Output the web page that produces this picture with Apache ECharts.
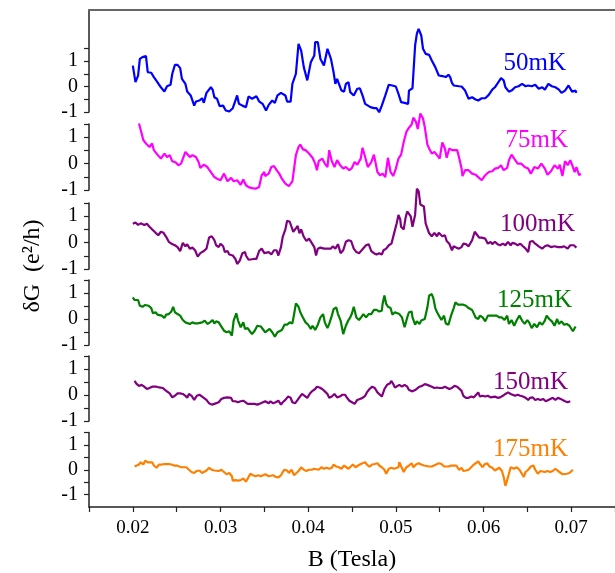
<!DOCTYPE html>
<html>
<head>
<meta charset="utf-8">
<script src="https://cdn.jsdelivr.net/npm/echarts@6/dist/echarts.min.js"></script>
<style>html,body{margin:0;padding:0;background:#fff;}#chart{width:615px;height:573px;}</style>
</head>
<body>
<div id="chart"></div>
<script>
// ---- data (B in Tesla, dG in e^2/h) ----
const labels = ['50mK', '75mK', '100mK', '125mK', '150mK', '175mK'];
const colors = ['#0000FF', '#FF00FF', '#800080', '#008000', '#800080', '#FF8000'];
const xTickValues = [0.015, 0.02, 0.025, 0.03, 0.035, 0.04, 0.045, 0.05, 0.055, 0.06, 0.065, 0.07, 0.075];
const xLabelValues = [0.02, 0.03, 0.04, 0.05, 0.06, 0.07];
const yLabelValues = [-1, 0, 1];
const yTickValues = [-1, -0.5, 0, 0.5, 1, 1.5];

const B_50 = [0.0200,0.0203,0.0206,0.0208,0.0211,0.0215,0.0217,0.0221,0.0224,0.0228,0.0232,0.0236,0.0239,0.0243,0.0245,0.0248,0.0251,0.0254,0.0256,0.0260,0.0262,0.0266,0.0270,0.0272,0.0276,0.0279,0.0281,0.0284,0.0289,0.0291,0.0293,0.0296,0.0299,0.0303,0.0306,0.0310,0.0314,0.0317,0.0319,0.0321,0.0325,0.0329,0.0332,0.0336,0.0338,0.0341,0.0344,0.0348,0.0352,0.0355,0.0359,0.0362,0.0365,0.0369,0.0371,0.0374,0.0376,0.0380,0.0382,0.0386,0.0389,0.0392,0.0395,0.0399,0.0403,0.0407,0.0408,0.0411,0.0414,0.0418,0.0422,0.0426,0.0429,0.0431,0.0433,0.0435,0.0438,0.0441,0.0443,0.0446,0.0448,0.0452,0.0456,0.0459,0.0462,0.0465,0.0467,0.0471,0.0475,0.0478,0.0481,0.0482,0.0484,0.0488,0.0492,0.0496,0.0500,0.0503,0.0506,0.0510,0.0514,0.0515,0.0519,0.0520,0.0522,0.0524,0.0526,0.0528,0.0529,0.0531,0.0534,0.0538,0.0541,0.0545,0.0549,0.0553,0.0555,0.0557,0.0560,0.0562,0.0564,0.0566,0.0568,0.0572,0.0575,0.0579,0.0583,0.0587,0.0591,0.0594,0.0598,0.0602,0.0606,0.0610,0.0613,0.0617,0.0620,0.0623,0.0625,0.0629,0.0632,0.0636,0.0640,0.0644,0.0648,0.0651,0.0655,0.0659,0.0663,0.0667,0.0670,0.0674,0.0678,0.0682,0.0686,0.0689,0.0693,0.0697,0.0701,0.0705,0.0706];
const dG_50 = [0.82,0.17,0.43,1.08,1.15,1.19,0.56,0.54,0.37,0.17,-0.03,-0.20,0.01,0.07,0.50,0.85,0.85,0.72,0.30,0.10,-0.20,-0.35,-0.75,-0.59,-0.55,-0.46,-0.64,-0.25,-0.03,-0.12,-0.42,-0.48,-0.77,-0.75,-0.94,-0.98,-0.85,-0.55,-0.35,-0.68,-0.75,-0.81,-0.39,-0.48,-0.42,-0.38,-0.58,-0.68,-0.94,-0.72,-0.55,-0.64,-0.35,-0.25,-0.20,-0.35,-0.59,-0.59,0.10,0.50,1.67,1.41,0.76,0.24,0.95,1.22,1.74,1.74,1.08,0.82,1.48,1.08,0.56,0.10,0.30,0.24,-0.16,-0.20,0.10,0.17,-0.22,-0.35,-0.09,-0.07,-0.35,-0.68,-0.72,-0.81,-0.85,-0.85,-1.01,-0.94,-0.75,-0.35,0.07,0.04,0.00,-0.29,-0.61,-0.64,-0.68,-0.16,-0.07,-0.03,1.61,2.07,2.26,2.26,2.00,1.48,1.28,1.24,1.02,0.76,0.43,0.41,0.46,0.37,0.46,0.37,0.14,0.04,-0.03,0.01,0.00,-0.16,-0.48,-0.42,-0.51,-0.55,-0.46,-0.46,-0.33,-0.12,-0.03,0.17,0.33,0.24,-0.03,-0.20,-0.16,-0.03,0.01,0.10,0.01,0.04,0.01,0.07,-0.09,-0.03,-0.12,0.10,0.01,-0.03,-0.12,-0.25,-0.16,0.04,-0.20,-0.16,-0.25];

const B_75 = [0.0207,0.0209,0.0212,0.0215,0.0219,0.0222,0.0224,0.0228,0.0232,0.0236,0.0239,0.0242,0.0245,0.0249,0.0252,0.0255,0.0257,0.0260,0.0262,0.0265,0.0268,0.0272,0.0275,0.0277,0.0281,0.0285,0.0289,0.0293,0.0296,0.0300,0.0304,0.0308,0.0312,0.0315,0.0319,0.0323,0.0326,0.0329,0.0332,0.0336,0.0340,0.0344,0.0347,0.0350,0.0351,0.0355,0.0358,0.0361,0.0364,0.0367,0.0370,0.0374,0.0378,0.0382,0.0386,0.0389,0.0391,0.0394,0.0397,0.0401,0.0405,0.0408,0.0410,0.0412,0.0416,0.0419,0.0422,0.0424,0.0427,0.0430,0.0433,0.0436,0.0440,0.0443,0.0447,0.0450,0.0453,0.0456,0.0460,0.0462,0.0465,0.0468,0.0472,0.0475,0.0479,0.0482,0.0485,0.0488,0.0491,0.0494,0.0497,0.0500,0.0503,0.0506,0.0509,0.0512,0.0515,0.0518,0.0520,0.0523,0.0525,0.0528,0.0531,0.0533,0.0536,0.0538,0.0541,0.0544,0.0547,0.0550,0.0553,0.0556,0.0558,0.0561,0.0564,0.0567,0.0570,0.0572,0.0575,0.0576,0.0579,0.0583,0.0587,0.0591,0.0594,0.0598,0.0602,0.0606,0.0610,0.0613,0.0617,0.0620,0.0623,0.0627,0.0629,0.0632,0.0635,0.0639,0.0643,0.0647,0.0651,0.0654,0.0658,0.0662,0.0666,0.0670,0.0673,0.0677,0.0681,0.0685,0.0687,0.0690,0.0693,0.0696,0.0699,0.0701,0.0704,0.0706,0.0709,0.0711];
const dG_75 = [1.52,1.27,0.89,0.76,0.63,0.76,0.51,0.34,0.19,0.38,0.25,0.32,0.09,0.04,-0.06,0.00,-0.06,0.44,0.47,0.25,0.32,0.25,0.06,-0.16,-0.04,-0.13,-0.32,-0.51,-0.57,-0.63,-0.38,-0.67,-0.54,-0.67,-0.63,-0.80,-0.60,-0.82,-0.89,-0.93,-0.95,-0.89,-0.44,-0.32,-0.47,-0.38,-0.13,-0.09,-0.25,-0.38,-0.57,-0.76,-0.85,-0.67,0.32,0.63,0.72,0.54,0.51,0.38,0.22,0.00,-0.25,0.09,0.19,0.00,-0.13,0.51,0.09,-0.13,0.13,-0.04,-0.19,-0.13,-0.25,-0.16,0.06,-0.04,0.19,0.60,0.25,-0.13,0.06,0.34,-0.32,-0.44,-0.38,-0.51,0.22,-0.32,-0.47,-0.19,0.19,0.34,0.82,1.20,1.36,1.48,1.74,1.58,1.31,1.90,1.71,1.39,0.72,0.57,0.38,0.44,0.32,0.19,0.80,0.57,0.22,0.57,0.51,0.51,0.51,0.25,-0.19,-0.47,-0.25,-0.25,-0.38,-0.42,-0.51,-0.63,-0.44,-0.32,-0.29,-0.19,-0.16,-0.06,-0.25,-0.16,0.13,0.34,0.19,0.00,0.00,-0.13,-0.19,-0.38,-0.13,-0.19,0.00,-0.19,-0.42,-0.29,-0.06,-0.19,-0.04,-0.47,0.09,-0.06,0.13,-0.04,-0.32,-0.13,-0.44,-0.38];

const B_100 = [0.0200,0.0203,0.0206,0.0209,0.0213,0.0216,0.0219,0.0221,0.0223,0.0226,0.0229,0.0232,0.0235,0.0238,0.0241,0.0244,0.0248,0.0251,0.0254,0.0257,0.0260,0.0262,0.0265,0.0268,0.0271,0.0274,0.0277,0.0281,0.0284,0.0287,0.0290,0.0293,0.0295,0.0298,0.0300,0.0303,0.0305,0.0308,0.0310,0.0314,0.0317,0.0319,0.0322,0.0325,0.0328,0.0329,0.0332,0.0334,0.0338,0.0341,0.0344,0.0347,0.0350,0.0352,0.0355,0.0358,0.0361,0.0364,0.0366,0.0369,0.0371,0.0374,0.0376,0.0379,0.0381,0.0383,0.0386,0.0388,0.0390,0.0392,0.0395,0.0398,0.0401,0.0404,0.0407,0.0409,0.0411,0.0414,0.0418,0.0422,0.0426,0.0428,0.0431,0.0434,0.0437,0.0440,0.0443,0.0446,0.0449,0.0452,0.0455,0.0458,0.0461,0.0463,0.0466,0.0469,0.0472,0.0475,0.0478,0.0481,0.0484,0.0486,0.0489,0.0492,0.0495,0.0498,0.0500,0.0501,0.0503,0.0505,0.0506,0.0509,0.0511,0.0513,0.0515,0.0517,0.0519,0.0522,0.0524,0.0526,0.0528,0.0530,0.0532,0.0534,0.0536,0.0538,0.0541,0.0544,0.0547,0.0549,0.0553,0.0556,0.0558,0.0561,0.0564,0.0566,0.0569,0.0572,0.0575,0.0577,0.0580,0.0583,0.0587,0.0590,0.0593,0.0595,0.0598,0.0602,0.0605,0.0608,0.0610,0.0613,0.0616,0.0619,0.0622,0.0625,0.0628,0.0631,0.0633,0.0636,0.0639,0.0642,0.0645,0.0648,0.0651,0.0653,0.0656,0.0659,0.0663,0.0667,0.0670,0.0673,0.0677,0.0681,0.0685,0.0689,0.0692,0.0696,0.0699,0.0703,0.0706];
const dG_100 = [0.71,0.76,0.67,0.73,0.67,0.71,0.60,0.63,0.47,0.37,0.28,0.41,0.37,0.22,0.03,-0.04,-0.10,-0.17,-0.32,-0.01,-0.14,-0.06,-0.23,-0.19,-0.29,-0.53,-0.40,-0.32,-0.23,0.19,0.24,0.09,-0.10,-0.17,-0.04,-0.14,-0.36,-0.32,-0.45,-0.49,-0.62,-0.81,-0.68,-0.40,-0.36,-0.49,-0.65,-0.58,-0.62,-0.62,-0.32,-0.23,-0.40,-0.45,-0.36,-0.45,-0.29,-0.29,-0.49,-0.17,0.22,0.50,0.83,0.79,0.60,0.41,0.54,0.63,0.35,0.50,0.22,0.06,0.15,-0.01,-0.17,-0.49,-0.23,-0.19,-0.23,-0.23,-0.23,-0.14,-0.23,-0.06,-0.40,-0.29,0.03,0.09,0.06,-0.23,-0.36,-0.40,-0.29,-0.36,-0.10,-0.06,-0.32,-0.40,-0.45,-0.40,-0.45,-0.29,-0.23,-0.10,-0.04,0.35,0.41,0.73,1.05,0.88,0.60,0.50,0.92,1.18,1.22,0.99,0.60,1.05,2.04,1.95,1.44,1.47,1.37,0.73,0.54,0.35,0.24,0.37,0.24,0.37,0.24,0.28,0.06,-0.04,-0.29,-0.14,-0.19,-0.23,-0.17,-0.04,-0.06,-0.14,0.09,0.41,0.28,0.19,0.19,0.15,-0.04,0.03,-0.06,0.03,-0.06,-0.10,-0.04,-0.10,0.03,-0.10,-0.01,-0.04,-0.10,-0.04,-0.14,-0.23,-0.36,0.03,0.06,-0.04,-0.14,-0.23,-0.14,-0.10,-0.17,-0.14,-0.17,-0.17,-0.14,-0.23,-0.10,-0.10,-0.19];

const B_125 = [0.0200,0.0202,0.0204,0.0206,0.0208,0.0211,0.0214,0.0218,0.0221,0.0223,0.0226,0.0228,0.0230,0.0233,0.0236,0.0238,0.0241,0.0244,0.0246,0.0248,0.0251,0.0254,0.0257,0.0260,0.0262,0.0265,0.0268,0.0271,0.0274,0.0276,0.0279,0.0282,0.0285,0.0288,0.0291,0.0293,0.0295,0.0298,0.0301,0.0304,0.0307,0.0310,0.0313,0.0315,0.0318,0.0320,0.0323,0.0326,0.0328,0.0331,0.0333,0.0336,0.0339,0.0342,0.0346,0.0348,0.0351,0.0353,0.0356,0.0359,0.0362,0.0365,0.0367,0.0370,0.0373,0.0376,0.0379,0.0382,0.0384,0.0386,0.0389,0.0391,0.0394,0.0397,0.0400,0.0403,0.0405,0.0408,0.0411,0.0414,0.0417,0.0419,0.0422,0.0424,0.0427,0.0429,0.0432,0.0434,0.0437,0.0440,0.0443,0.0446,0.0448,0.0450,0.0452,0.0455,0.0458,0.0461,0.0463,0.0466,0.0469,0.0472,0.0475,0.0478,0.0481,0.0484,0.0485,0.0487,0.0489,0.0491,0.0494,0.0496,0.0499,0.0501,0.0504,0.0507,0.0510,0.0513,0.0515,0.0518,0.0519,0.0522,0.0524,0.0527,0.0529,0.0531,0.0533,0.0536,0.0538,0.0541,0.0543,0.0545,0.0547,0.0549,0.0552,0.0555,0.0557,0.0560,0.0563,0.0566,0.0568,0.0571,0.0574,0.0577,0.0580,0.0583,0.0587,0.0591,0.0594,0.0596,0.0599,0.0602,0.0605,0.0608,0.0612,0.0615,0.0618,0.0621,0.0624,0.0627,0.0629,0.0632,0.0635,0.0638,0.0641,0.0644,0.0647,0.0650,0.0652,0.0655,0.0658,0.0661,0.0664,0.0667,0.0670,0.0672,0.0675,0.0678,0.0681,0.0684,0.0686,0.0689,0.0692,0.0695,0.0698,0.0700,0.0702,0.0704,0.0705];
const dG_125 = [0.83,0.73,0.68,0.73,0.51,0.47,0.54,0.51,0.42,0.22,0.26,0.17,0.22,0.13,0.04,0.17,0.19,0.29,0.47,0.26,0.19,0.13,-0.04,-0.13,-0.06,-0.19,-0.13,-0.17,-0.17,-0.22,-0.13,-0.06,-0.19,-0.13,-0.04,-0.17,-0.09,-0.13,-0.29,-0.45,-0.51,-0.47,-0.64,-0.06,0.22,-0.06,-0.32,-0.13,-0.38,-0.35,-0.45,-0.58,-0.45,-0.26,-0.29,-0.29,-0.51,-0.55,-0.38,-0.51,-0.68,-0.51,-0.55,-0.42,-0.22,-0.22,-0.13,-0.17,0.19,0.60,0.47,0.26,0.06,-0.13,-0.22,-0.38,-0.26,-0.42,-0.22,0.06,0.19,-0.13,-0.35,-0.19,0.13,0.38,0.45,0.19,-0.06,-0.58,-0.26,-0.04,0.06,0.22,0.47,0.06,-0.04,0.09,0.19,0.06,0.19,0.19,0.35,0.35,0.29,0.32,0.60,0.90,0.58,0.47,0.42,0.17,0.26,0.32,0.19,0.06,-0.32,0.06,0.26,0.29,0.06,-0.22,-0.09,-0.19,-0.06,-0.13,0.00,0.45,0.90,0.96,0.77,0.42,0.26,0.32,-0.04,0.13,-0.17,-0.22,0.13,0.42,0.64,0.55,0.55,0.55,0.51,0.42,0.35,0.06,0.00,0.13,0.06,-0.09,0.13,0.13,0.13,0.13,0.06,0.06,-0.04,0.13,-0.19,-0.04,-0.26,-0.04,0.13,-0.06,-0.19,-0.04,-0.13,-0.35,-0.19,-0.32,-0.13,-0.22,-0.06,0.13,0.00,-0.09,-0.26,0.00,-0.19,-0.09,-0.22,-0.19,-0.26,-0.19,-0.47,-0.47,-0.29];

const B_150 = [0.0202,0.0204,0.0207,0.0210,0.0213,0.0216,0.0219,0.0222,0.0224,0.0227,0.0230,0.0234,0.0237,0.0239,0.0242,0.0245,0.0248,0.0251,0.0254,0.0257,0.0260,0.0262,0.0264,0.0267,0.0270,0.0273,0.0276,0.0279,0.0281,0.0284,0.0287,0.0290,0.0293,0.0295,0.0298,0.0301,0.0304,0.0308,0.0312,0.0314,0.0317,0.0320,0.0323,0.0326,0.0328,0.0331,0.0333,0.0336,0.0339,0.0342,0.0346,0.0348,0.0351,0.0355,0.0357,0.0360,0.0363,0.0366,0.0369,0.0371,0.0374,0.0377,0.0380,0.0382,0.0385,0.0388,0.0390,0.0393,0.0396,0.0399,0.0402,0.0405,0.0408,0.0410,0.0413,0.0416,0.0419,0.0422,0.0424,0.0427,0.0430,0.0433,0.0436,0.0439,0.0442,0.0444,0.0447,0.0450,0.0453,0.0456,0.0459,0.0462,0.0465,0.0467,0.0470,0.0473,0.0476,0.0479,0.0481,0.0484,0.0487,0.0490,0.0493,0.0495,0.0497,0.0499,0.0501,0.0504,0.0507,0.0510,0.0513,0.0515,0.0519,0.0522,0.0524,0.0527,0.0530,0.0533,0.0536,0.0538,0.0541,0.0544,0.0547,0.0550,0.0553,0.0556,0.0558,0.0561,0.0564,0.0567,0.0570,0.0572,0.0575,0.0577,0.0580,0.0583,0.0586,0.0589,0.0591,0.0594,0.0596,0.0599,0.0602,0.0605,0.0608,0.0610,0.0613,0.0616,0.0619,0.0622,0.0625,0.0628,0.0631,0.0633,0.0636,0.0639,0.0642,0.0645,0.0648,0.0651,0.0653,0.0656,0.0659,0.0662,0.0665,0.0668,0.0671,0.0674,0.0676,0.0679,0.0682,0.0685,0.0688,0.0690,0.0693,0.0696,0.0699];
const dG_150 = [0.54,0.44,0.35,0.39,0.32,0.23,0.27,0.32,0.39,0.32,0.29,0.27,0.19,0.14,0.06,-0.09,-0.03,0.06,0.06,0.04,-0.03,-0.11,0.04,-0.03,-0.19,-0.03,0.01,-0.06,-0.11,-0.19,-0.32,-0.37,-0.34,-0.32,-0.28,-0.15,-0.11,-0.09,-0.11,-0.24,-0.24,-0.28,-0.24,-0.22,-0.28,-0.34,-0.37,-0.34,-0.34,-0.37,-0.32,-0.28,-0.24,-0.32,-0.24,-0.32,-0.28,-0.22,-0.37,-0.28,-0.19,-0.06,-0.11,-0.28,-0.32,-0.19,-0.09,0.04,-0.03,-0.11,0.06,0.16,0.23,0.32,0.29,0.23,0.14,0.04,-0.11,-0.06,0.04,-0.09,-0.06,0.01,0.01,-0.09,-0.22,-0.28,-0.34,-0.19,-0.15,-0.11,-0.03,0.10,0.23,0.32,0.27,0.10,0.04,-0.06,0.23,0.39,0.44,0.54,0.42,0.29,0.32,0.39,0.32,0.39,0.32,0.19,0.14,0.19,0.23,0.32,0.35,0.42,0.39,0.32,0.32,0.27,0.29,0.27,0.27,0.32,0.27,0.23,0.27,0.35,0.32,0.29,0.16,-0.03,-0.11,-0.11,-0.06,-0.09,-0.03,0.10,-0.06,-0.03,-0.06,-0.03,-0.09,-0.03,-0.06,-0.11,-0.09,-0.03,0.04,0.10,0.04,0.01,-0.03,0.01,-0.03,-0.06,-0.11,-0.19,-0.11,-0.09,-0.19,-0.15,-0.19,-0.15,-0.24,-0.19,-0.15,-0.11,-0.19,-0.11,-0.15,-0.11,-0.24,-0.28,-0.24];

const B_175 = [0.0202,0.0204,0.0207,0.0209,0.0212,0.0214,0.0217,0.0219,0.0222,0.0224,0.0227,0.0230,0.0233,0.0236,0.0238,0.0241,0.0244,0.0247,0.0250,0.0253,0.0256,0.0258,0.0261,0.0264,0.0267,0.0270,0.0273,0.0276,0.0279,0.0281,0.0284,0.0287,0.0290,0.0293,0.0295,0.0298,0.0301,0.0304,0.0307,0.0310,0.0313,0.0314,0.0317,0.0320,0.0323,0.0326,0.0329,0.0332,0.0334,0.0337,0.0340,0.0343,0.0346,0.0348,0.0351,0.0355,0.0357,0.0360,0.0363,0.0366,0.0369,0.0371,0.0373,0.0376,0.0378,0.0381,0.0384,0.0386,0.0389,0.0392,0.0395,0.0398,0.0401,0.0404,0.0407,0.0409,0.0412,0.0415,0.0418,0.0421,0.0424,0.0427,0.0429,0.0432,0.0435,0.0438,0.0441,0.0443,0.0446,0.0448,0.0451,0.0454,0.0457,0.0460,0.0462,0.0465,0.0467,0.0470,0.0473,0.0476,0.0479,0.0481,0.0484,0.0487,0.0489,0.0492,0.0495,0.0498,0.0500,0.0503,0.0504,0.0506,0.0509,0.0512,0.0515,0.0518,0.0520,0.0523,0.0526,0.0529,0.0532,0.0534,0.0538,0.0541,0.0543,0.0546,0.0549,0.0552,0.0555,0.0557,0.0560,0.0563,0.0566,0.0569,0.0572,0.0575,0.0577,0.0580,0.0583,0.0586,0.0589,0.0591,0.0594,0.0596,0.0599,0.0601,0.0604,0.0607,0.0610,0.0613,0.0615,0.0618,0.0621,0.0623,0.0625,0.0627,0.0629,0.0631,0.0633,0.0635,0.0638,0.0641,0.0643,0.0646,0.0648,0.0651,0.0654,0.0657,0.0659,0.0662,0.0665,0.0667,0.0670,0.0673,0.0676,0.0679,0.0682,0.0685,0.0687,0.0690,0.0692,0.0695,0.0698,0.0700,0.0702];
const dG_175 = [0.13,0.17,0.21,0.30,0.21,0.36,0.30,0.26,0.30,0.17,0.08,0.21,0.21,0.23,0.26,0.23,0.21,0.17,0.17,0.13,0.10,0.17,0.10,0.00,-0.09,-0.13,-0.05,-0.03,-0.13,-0.18,-0.03,0.08,0.00,-0.03,-0.05,-0.05,0.00,-0.09,-0.18,-0.13,-0.26,-0.44,-0.42,-0.44,-0.42,-0.35,-0.48,-0.29,-0.16,-0.22,-0.26,-0.22,-0.26,-0.22,-0.18,-0.26,-0.26,-0.22,-0.29,-0.31,-0.22,-0.09,0.00,-0.03,-0.13,0.00,-0.22,-0.18,-0.05,0.10,0.00,-0.05,0.00,0.00,0.04,0.08,0.00,0.10,0.04,0.08,0.04,0.08,0.21,0.13,0.10,0.04,0.17,0.21,0.04,0.10,0.21,0.10,0.17,0.23,0.26,0.30,0.21,0.13,0.21,0.23,0.26,0.17,0.10,0.00,-0.16,0.04,0.08,0.04,0.08,0.10,0.30,0.30,-0.09,0.10,0.17,0.26,0.10,0.21,0.26,0.21,0.17,0.13,0.13,0.13,0.17,0.21,0.26,0.23,0.13,0.10,0.13,0.17,0.17,0.17,0.00,0.08,-0.05,-0.03,0.00,0.10,0.21,0.26,0.34,0.23,0.10,0.21,0.26,0.13,0.08,-0.03,-0.05,0.08,-0.05,-0.29,-0.65,-0.42,-0.16,0.10,0.17,0.04,0.10,0.00,-0.05,-0.29,-0.09,0.00,0.13,0.17,0.00,-0.16,-0.05,-0.13,-0.09,-0.05,-0.09,-0.05,0.04,-0.05,-0.09,-0.18,-0.22,-0.16,-0.13,-0.09,0.00];

// ---- chart ----
const Bs = [B_50, B_75, B_100, B_125, B_150, B_175];
const Vs = [dG_50, dG_75, dG_100, dG_125, dG_150, dG_175];
const panels = [
  {top: 10, height: 102, min: -1, max: 3},
  {top: 124, height: 66, min: -1, max: 1.5},
  {top: 203, height: 66, min: -1, max: 1.5},
  {top: 280, height: 65, min: -1, max: 1.5},
  {top: 356, height: 65, min: -1, max: 1.5},
  {top: 432.5, height: 76.5, min: -1.5, max: 1.5}
];
const labelPos = [
  {x: 566, y: 63}, {x: 568, y: 140}, {x: 575, y: 224},
  {x: 572, y: 300}, {x: 568, y: 382}, {x: 568, y: 449}
];
const serif = '"Liberation Serif", "Times New Roman", serif';
const axisColor = '#222';

const grid = panels.map(p => ({left: 89, width: 527, top: p.top, height: p.height}));
const xAxis = panels.map((p, i) => {
  const last = i === panels.length - 1;
  const first = i === 0;
  return {
    type: 'value', gridIndex: i, min: 0.015, max: 0.075,
    position: first ? 'top' : 'bottom',
    show: first || last,
    splitLine: {show: false},
    axisLine: {show: true, onZero: false, lineStyle: {color: first ? '#666' : axisColor, width: first ? 2 : 1.5}},
    axisTick: {show: last, length: 5, customValues: xTickValues, lineStyle: {color: axisColor, width: 1.2}},
    axisLabel: {show: last, customValues: xLabelValues, margin: 12, fontFamily: serif, fontSize: 19, color: '#000',
      formatter: v => v.toFixed(2)},
    name: last ? 'B (Tesla)' : '',
    nameLocation: 'middle', nameGap: 41,
    nameTextStyle: {fontFamily: serif, fontSize: 24, color: '#000'}
  };
});
const yAxis = panels.map((p, i) => ({
  type: 'value', gridIndex: i, min: p.min, max: p.max,
  splitLine: {show: false},
  axisLine: {show: true, onZero: false, lineStyle: {color: axisColor, width: 1.5}},
  axisTick: {show: true, length: 5, customValues: yTickValues, lineStyle: {color: axisColor, width: 1.2}},
  axisLabel: {customValues: yLabelValues, margin: 11, fontFamily: serif, fontSize: 20, color: '#000',
    formatter: v => String(v)}
}));
const series = Vs.map((vals, i) => ({
  type: 'line', xAxisIndex: i, yAxisIndex: i,
  data: vals.map((v, k) => [Bs[i][k], v]),
  showSymbol: false, clip: false, animation: false,
  lineStyle: {color: colors[i], width: 2.2}, itemStyle: {color: colors[i]}
}));
const graphic = labels.map((t, i) => ({
  type: 'text', x: labelPos[i].x, y: labelPos[i].y,
  style: {text: t, fill: colors[i], font: '25px ' + serif, textAlign: 'right', textVerticalAlign: 'middle'}
}));
graphic.push({
  type: 'text', x: 33, y: 266, rotation: Math.PI / 2,
  style: {text: 'δG  (e²/h)', fill: '#000', font: '24px ' + serif, textAlign: 'center', textVerticalAlign: 'middle'}
});

const chart = echarts.init(document.getElementById('chart'), null, {renderer: 'canvas'});
chart.setOption({animation: false, grid, xAxis, yAxis, series, graphic});
</script>
</body>
</html>
